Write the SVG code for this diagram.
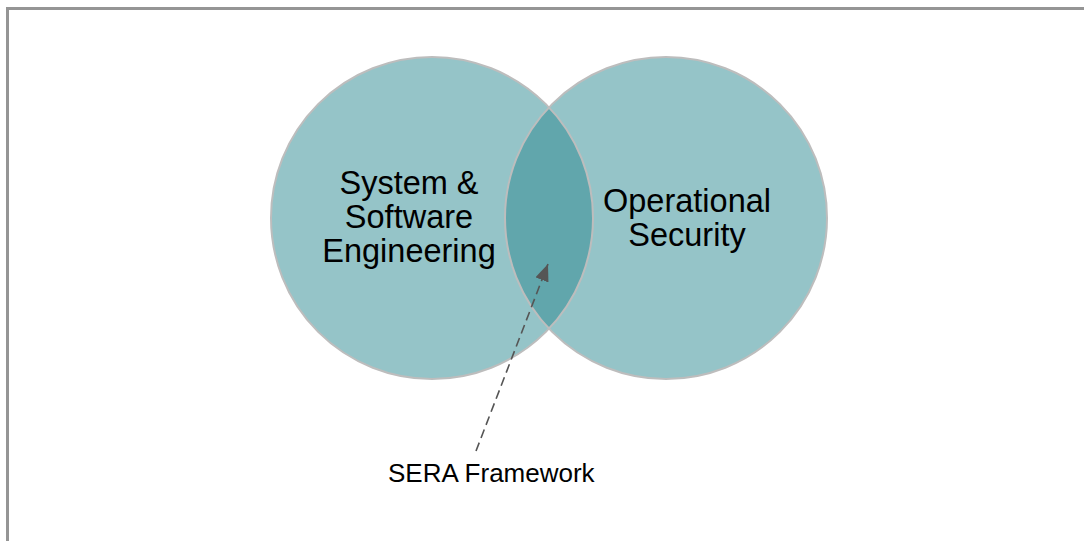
<svg xmlns="http://www.w3.org/2000/svg" width="1084" height="541" viewBox="0 0 1084 541">
<style>
.frame{stroke:#959595;stroke-width:3;fill:none}
.circ{fill:#95C4C8}
.lens{fill:#61A6AC}
.edge{fill:none;stroke:#BDBDBD;stroke-width:2}
.lbl{font-family:"Liberation Sans",Arial,sans-serif;font-size:32.5px;fill:#000;text-anchor:middle}
.cap{font-family:"Liberation Sans",Arial,sans-serif;font-size:26px;fill:#000}
.conn{stroke:#555;stroke-width:1.6;stroke-dasharray:9 5;fill:none}
</style>
<defs>
<marker id="ah" markerUnits="userSpaceOnUse" markerWidth="20" markerHeight="16" refX="17" refY="7" orient="auto">
<path d="M0,0 L17,7 L0,14 Z" fill="#555"/>
</marker>
</defs>
<rect width="1084" height="541" fill="#fff"/>
<path class="frame" d="M7.5,541 V8.5 H1084"/>
<g id="node-sse">
<circle class="circ" cx="432" cy="218" r="161"/>
</g>
<g id="node-ops">
<circle class="circ" cx="666" cy="218" r="161"/>
</g>
<g id="node-overlap">
<path class="lens" d="M549,107.4 A161,161 0 0 1 549,328.6 A161,161 0 0 1 549,107.4 Z"/>
</g>
<g id="edges-outline">
<circle class="edge" cx="432" cy="218" r="161"/>
<circle class="edge" cx="666" cy="218" r="161"/>
</g>
<g id="labels">
<text class="lbl" x="409" y="194">System &amp;</text>
<text class="lbl" x="409" y="228">Software</text>
<text class="lbl" x="409" y="262">Engineering</text>
<text class="lbl" x="687" y="212">Operational</text>
<text class="lbl" x="687" y="246">Security</text>
</g>
<g id="connectors">
<line class="conn" x1="476" y1="451" x2="548" y2="264" marker-end="url(#ah)"/>
</g>
<g id="node-sera">
<text class="cap" x="388" y="482">SERA Framework</text>
</g>
</svg>
